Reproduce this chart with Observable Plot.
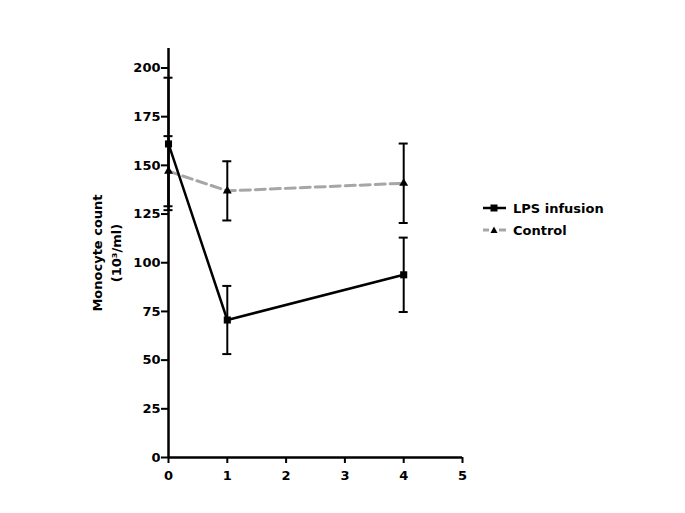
<!DOCTYPE html>
<html>
<head>
<meta charset="utf-8">
<script src="https://cdn.jsdelivr.net/npm/d3@7"></script>
<script src="https://cdn.jsdelivr.net/npm/@observablehq/plot@0.6"></script>
<style>
  html, body { margin: 0; padding: 0; background: #fff; }
  #wrap { position: relative; width: 685px; height: 513px; overflow: hidden; }
  #legend { position: absolute; left: 482px; top: 197px; font-family: "DejaVu Sans", sans-serif; font-weight: bold; font-size: 13px; color: #000; }
  .item { display: flex; align-items: center; height: 22px; }
  .item svg { margin-right: 6px; }
</style>
</head>
<body>
<div id="wrap"><div id="legend"></div></div>
<script>
// Data
const days = [0, 1, 4];
const lpsMean = [161, 70.6, 93.8];
const lpsErr = [34, 17.5, 19.1];
const ctrlMean = [147, 136.9, 140.8];
const ctrlErr = [18, 15.2, 20.4];
const seriesNames = ["LPS infusion", "Control"];
const yTicks = [0, 25, 50, 75, 100, 125, 150, 175, 200];
const xTicks = [0, 1, 2, 3, 4, 5];
const yLabelLines = ["Monocyte count", "(10\u00B3/ml)"];

const lps = days.map((d, i) => ({x: d, y: lpsMean[i], lo: lpsMean[i] - lpsErr[i], hi: lpsMean[i] + lpsErr[i]}));
const ctrl = days.map((d, i) => ({x: d, y: ctrlMean[i], lo: ctrlMean[i] - ctrlErr[i], hi: ctrlMean[i] + ctrlErr[i]}));
const caps = [...lps, ...ctrl].flatMap(d => [{x: d.x, y: d.lo}, {x: d.x, y: d.hi}]);

const chart = Plot.plot({
  width: 685,
  height: 513,
  marginLeft: 168,
  marginRight: 223,
  marginTop: 48,
  marginBottom: 56,
  style: {fontFamily: "DejaVu Sans, sans-serif", fontSize: "13px", fontWeight: "bold", color: "#000", background: "#fff"},
  x: {domain: [0, 5]},
  y: {domain: [0, 210]},
  marks: [
    Plot.axisY({ticks: yTicks, tickFormat: "d", tickSize: 7, tickPadding: 1, strokeWidth: 2, label: null, fontSize: 13, fontWeight: "bold"}),
    Plot.axisX({ticks: xTicks, tickFormat: "d", tickSize: 6, tickPadding: 7, strokeWidth: 2, label: null, fontSize: 13, fontWeight: "bold"}),
    Plot.ruleX([0], {y1: 0, y2: 210, stroke: "#000", strokeWidth: 2.5}),
    Plot.ruleY([0], {x1: 0, x2: 5, stroke: "#000", strokeWidth: 2.5}),
    Plot.text([yLabelLines[0]], {text: d => d, frameAnchor: "left", rotate: -90, dx: -71, textAnchor: "middle", lineAnchor: "middle", fontSize: 13, fontWeight: "bold"}),
    Plot.text([yLabelLines[1]], {text: d => d, frameAnchor: "left", rotate: -90, dx: -52, textAnchor: "middle", lineAnchor: "middle", fontSize: 13, fontWeight: "bold"}),
    Plot.line(ctrl, {x: "x", y: "y", stroke: "#a6a6a6", strokeWidth: 3, strokeDasharray: "10,5"}),
    Plot.line(lps, {x: "x", y: "y", stroke: "#000", strokeWidth: 2.5}),
    Plot.ruleX([...lps, ...ctrl], {x: "x", y1: "lo", y2: "hi", stroke: "#000", strokeWidth: 2}),
    Plot.ruleY(caps, {x1: "x", x2: "x", y: "y", insetLeft: -4.5, insetRight: -4.5, stroke: "#000", strokeWidth: 2}),
    Plot.dot(lps, {x: "x", y: "y", symbol: "square", r: 4, fill: "#000", stroke: null}),
    Plot.dot(ctrl, {x: "x", y: "y", symbol: "triangle", r: 3.3, fill: "#000", stroke: null})
  ]
});
document.getElementById("wrap").prepend(chart);

// Legend
const legend = document.getElementById("legend");
const mk = (name, solid) => {
  const item = document.createElement("div");
  item.className = "item";
  const ns = "http://www.w3.org/2000/svg";
  const s = document.createElementNS(ns, "svg");
  s.setAttribute("width", 25); s.setAttribute("height", 12);
  if (solid) {
    s.innerHTML = '<line x1="1" x2="24" y1="6" y2="6" stroke="#000" stroke-width="2.5"/><rect x="8.5" y="2.5" width="7" height="7" fill="#000"/>';
  } else {
    s.innerHTML = '<line x1="1" x2="7" y1="6" y2="6" stroke="#a6a6a6" stroke-width="3"/><line x1="17" x2="24" y1="6" y2="6" stroke="#a6a6a6" stroke-width="3"/><path d="M12,2.5 L15.5,9 L8.5,9 Z" fill="#000"/>';
  }
  item.appendChild(s);
  const t = document.createElement("span");
  t.textContent = name;
  item.appendChild(t);
  legend.appendChild(item);
};
mk(seriesNames[0], true);
mk(seriesNames[1], false);
</script>
</body>
</html>
